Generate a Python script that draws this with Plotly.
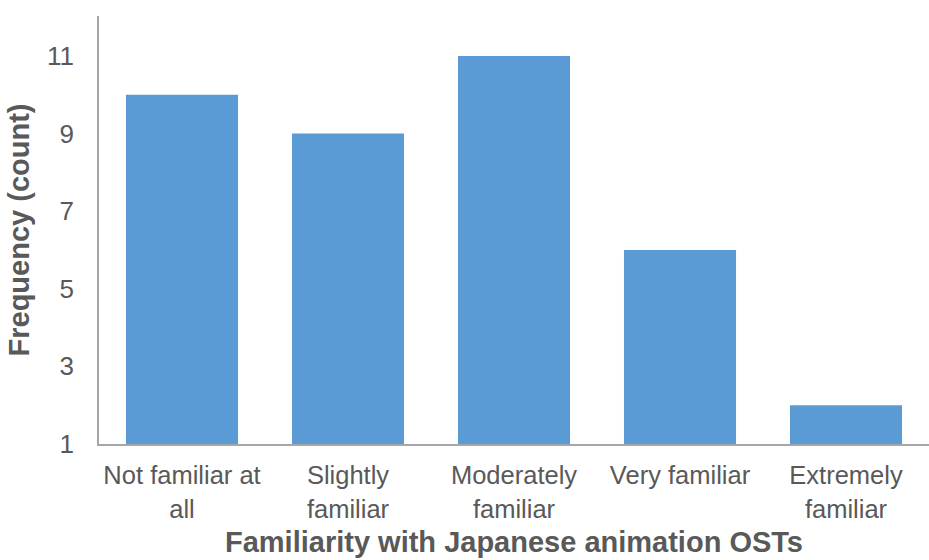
import plotly.graph_objects as go

categories = ["Not familiar at<br>all", "Slightly<br>familiar", "Moderately<br>familiar",
              "Very familiar", "Extremely<br>familiar"]
counts = [10, 9, 11, 6, 2]
y_ticks = [1, 3, 5, 7, 9, 11]

text_color = "#595959"
font_family = "Liberation Sans, Arial, sans-serif"

fig = go.Figure(
    go.Bar(
        x=categories,
        y=counts,
        base=0,
        marker=dict(color="#5B9BD5", line=dict(width=0)),
        width=0.675,
    )
)

fig.update_layout(
    width=929,
    height=560,
    margin=dict(l=99, r=0, t=16, b=116),
    plot_bgcolor="white",
    paper_bgcolor="white",
    showlegend=False,
    font=dict(family=font_family, color=text_color, size=26),
)

fig.update_xaxes(
    showline=True,
    linecolor="#A6A6A6",
    linewidth=1.5,
    showgrid=False,
    ticks="",
    ticklabelstandoff=8,
    tickfont=dict(size=25.5, color=text_color),
    title=dict(
        text="<b>Familiarity with Japanese animation OSTs</b>",
        font=dict(size=29, color=text_color),
        standoff=10,
    ),
)

fig.update_yaxes(
    range=[1, 12.03],
    tickvals=y_ticks,
    showline=True,
    linecolor="#A6A6A6",
    linewidth=1.5,
    showgrid=False,
    zeroline=False,
    ticks="",
    ticklabelstandoff=18,
    tickfont=dict(size=26, color=text_color),
    title=dict(
        text="<b>Frequency (count)</b>",
        font=dict(size=29, color=text_color),
        standoff=9,
    ),
)

fig.write_html("out.html")
